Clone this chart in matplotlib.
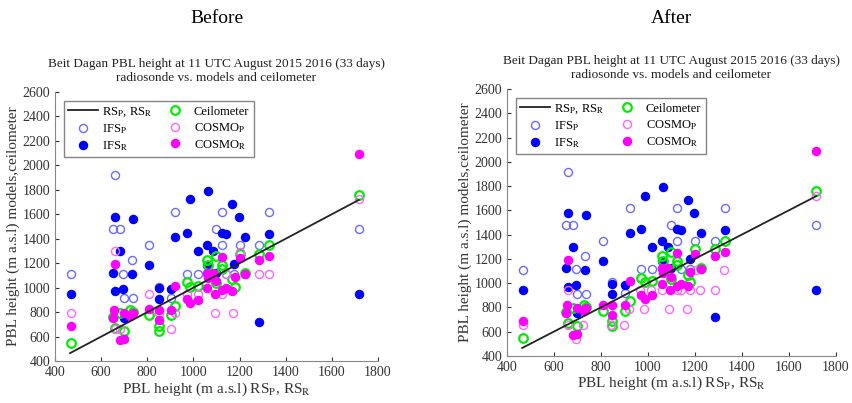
import matplotlib
matplotlib.use("Agg")

import matplotlib.pyplot as plt

plt.rcParams["font.family"] = "Liberation Serif"
plt.rcParams["mathtext.fontset"] = "stix"

# RS reference line (1:1)
rs_line = [465, 1717]

# IFS_P (open blue)
ifs_p_x = [468, 660, 650, 681, 807, 922, 733, 696, 699, 736, 970, 1019, 1126, 1100,
           1126, 1201, 1285, 1328, 1717, 1178, 1143, 1225, 1060, 849, 902]
ifs_p_y = [1110, 1920, 1478, 1478, 1347, 1617, 1225, 1113, 912, 912, 1113, 1113, 1617, 1478,
           1347, 1347, 1347, 1617, 1478, 1113, 1113, 1113, 1113, 1005, 915]

# IFS_R (filled blue)
ifs_r_x = [468, 661, 736, 652, 733, 681, 661, 696, 699, 807, 849, 849, 902, 922, 970, 987,
           1019, 1065, 1059, 1085, 1126, 1143, 1169, 1198, 1225, 1178, 1100, 1060, 1285,
           1328, 1717]
ifs_r_y = [947, 1579, 1563, 1122, 1108, 1299, 969, 988, 751, 1184, 994, 909, 988, 1416,
           1446, 1721, 1301, 1789, 1350, 1301, 1446, 1440, 1683, 1579, 1416, 1195, 1122,
           1184, 721, 1440, 947]

# Ceilometer (open green)
ceil_x = [468, 661, 652, 681, 699, 736, 727, 807, 849, 849, 902, 922, 970, 987, 1019, 1059,
          1065, 1100, 1100, 1126, 1126, 1169, 1180, 1201, 1225, 1285, 1328, 1717]
ceil_y = [544, 670, 762, 795, 648, 803, 817, 773, 686, 648, 773, 850, 1043, 1007, 1015, 1225,
          1184, 1260, 1035, 1184, 1151, 1067, 1007, 1279, 1122, 1277, 1347, 1761]

# COSMO_P before (open magenta)
cosmo_p_before_x = [468, 661, 807, 904, 922, 1094, 1172, 1285, 1328, 1717, 1060, 1143,
                    1020, 1126, 660, 849, 1201, 970, 681]
cosmo_p_before_y = [795, 1299, 947, 659, 795, 795, 795, 1113, 1113, 1721, 1113, 1113,
                    947, 947, 660, 795, 1288, 947, 660]

# COSMO_P after (open magenta)
cosmo_p_after_x = [468, 660, 660, 695, 723, 843, 900, 921, 967, 985, 1014, 1062, 1089, 1123,
                   1140, 1179, 1222, 1284, 1168, 1324, 1715, 1205]
cosmo_p_after_y = [656, 944, 656, 537, 656, 656, 656, 790, 944, 790, 944, 944, 790, 944,
                   944, 944, 944, 944, 790, 1110, 1720, 1110]

# COSMO_R (filled magenta)
cosmo_r_x = [468, 661, 655, 652, 681, 699, 699, 736, 727, 807, 849, 849, 902, 922, 970, 987,
             1019, 1059, 1065, 1059, 1085, 1100, 1094, 1126, 1126, 1143, 1169, 1180, 1201,
             1225, 1285, 1328, 1717]
cosmo_r_y = [686, 1190, 817, 751, 572, 577, 795, 795, 768, 822, 817, 735, 817, 1015, 904, 871,
             898, 994, 1083, 1122, 1122, 1053, 947, 1252, 980, 994, 975, 1089, 1244,
             1113, 1225, 1260, 2091]

title = "Beit Dagan PBL height at 11 UTC August 2015 2016 (33 days)\nradiosonde vs. models and ceilometer"

fig = plt.figure(figsize=(8.52, 4.03), dpi=100)
ax1 = fig.add_axes([0.0646, 0.104, 0.379, 0.668])
ax2 = fig.add_axes([0.595, 0.117, 0.386, 0.662])

panels = [(ax1, "Before", cosmo_p_before_x, cosmo_p_before_y),
          (ax2, "After", cosmo_p_after_x, cosmo_p_after_y)]

for ax, head, cpx, cpy in panels:
    ax.plot(ifs_p_x, ifs_p_y, "o", mfc="none", mec="#6b6bff", ms=5.8, mew=1.0, label="IFS$_\\mathrm{P}$")
    ax.plot(ifs_r_x, ifs_r_y, "o", color="#0000ff", ms=5.8, label="IFS$_\\mathrm{R}$")
    ax.plot(ceil_x, ceil_y, "o", mfc="none", mec="#00ee00", ms=6.2, mew=1.6, label="Ceilometer")
    ax.plot(cpx, cpy, "o", mfc="none", mec="#ff66ff", ms=5.8, mew=1.0, label="COSMO$_\\mathrm{P}$")
    ax.plot(cosmo_r_x, cosmo_r_y, "o", color="#ff00ff", ms=5.8, label="COSMO$_\\mathrm{R}$")
    ax.plot(rs_line, rs_line, color="#222222", lw=1.3, label="RS$_\\mathrm{P}$, RS$_\\mathrm{R}$")

    ax.set_xlim(400, 1800)
    ax.set_ylim(400, 2600)
    ax.set_xticks(range(400, 1801, 200))
    ax.set_yticks(range(400, 2601, 200))
    ax.tick_params(direction="in", labelsize=10, colors="#333333", length=3)
    for s in ["top", "right"]:
        ax.spines[s].set_visible(False)
    for s in ["left", "bottom"]:
        ax.spines[s].set_color("#888888")
    ax.set_xlabel("PBL height (m a.s.l) RS$_\\mathrm{P}$, RS$_\\mathrm{R}$", fontsize=11, color="#333333", labelpad=1)
    ax.set_ylabel("PBL height (m a.s.l) models,ceilometer", fontsize=11, color="#333333", labelpad=2)
    ax.set_title(title, fontsize=9.5, color="#222222", pad=8)

    h, l = ax.get_legend_handles_labels()
    order = [5, 0, 1, 2, 3, 4]
    ax.legend([h[i] for i in order], [l[i] for i in order], ncol=2, loc="upper left",
              bbox_to_anchor=(0.02, 0.975), fontsize=9, frameon=True, fancybox=False,
              edgecolor="#666666", handlelength=2.4, handletextpad=0.3, columnspacing=0.6,
              labelspacing=0.25, borderpad=0.35, borderaxespad=0.2)

    fig.text(ax.get_position().x0 + ax.get_position().width / 2, 0.955, head,
             ha="center", va="center", fontsize=14)

plt.savefig("out.png", dpi=100)
plt.close()
